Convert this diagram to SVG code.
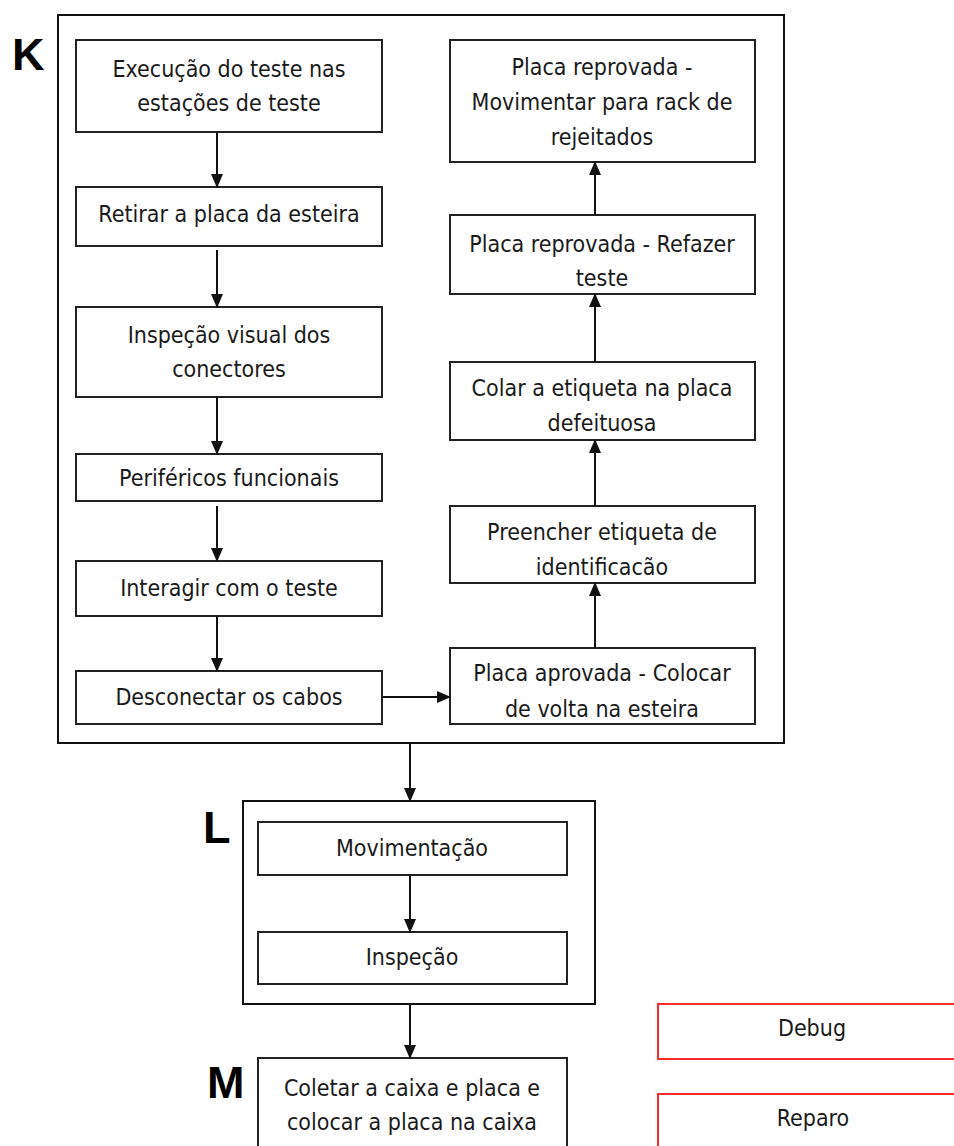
<svg xmlns="http://www.w3.org/2000/svg" width="954" height="1146" viewBox="0 0 954 1146">
  <style>
    .frame { fill: none; stroke: #111; stroke-width: 2; }
    .box { fill: #fff; stroke: #222; stroke-width: 2; }
    .red { fill: #fff; stroke: #ff2a2a; stroke-width: 2; }
    .t { font-family: "DejaVu Sans Condensed", "DejaVu Sans", sans-serif; font-size: 23px; fill: #1a1a1a; text-anchor: middle; }
    .big { font-family: "Liberation Sans", Arial, sans-serif; font-weight: bold; font-size: 45px; fill: #000; }
    .edge { fill: none; stroke: #111; stroke-width: 2; }
  </style>
  <defs>
    <marker id="arrow" markerWidth="14" markerHeight="12" refX="13" refY="6" orient="auto" markerUnits="userSpaceOnUse">
      <path d="M0,0 L14,6 L0,12 Z" fill="#111"/>
    </marker>
  </defs>
  <rect width="954" height="1146" fill="#fff"/>

  <!-- section frames and letters -->
  <g id="section-K">
    <rect class="frame" x="58" y="15" width="726" height="728"/>
    <text class="big" x="12" y="70">K</text>
  </g>
  <g id="section-L">
    <rect class="frame" x="243" y="801" width="352" height="203"/>
    <text class="big" x="203" y="843">L</text>
  </g>
  <g id="section-M">
    <text class="big" x="207" y="1098">M</text>
  </g>

  <!-- left column -->
  <g id="execucao">
    <rect class="box" x="76" y="40" width="306" height="92"/>
    <text class="t" x="229" y="77">Execução do teste nas</text>
    <text class="t" x="229" y="111">estações de teste</text>
  </g>
  <g id="retirar">
    <rect class="box" x="76" y="187" width="306" height="59"/>
    <text class="t" x="229" y="222">Retirar a placa da esteira</text>
  </g>
  <g id="inspecao-visual">
    <rect class="box" x="76" y="307" width="306" height="90"/>
    <text class="t" x="229" y="343">Inspeção visual dos</text>
    <text class="t" x="229" y="377">conectores</text>
  </g>
  <g id="perifericos">
    <rect class="box" x="76" y="454" width="306" height="47"/>
    <text class="t" x="229" y="486">Periféricos funcionais</text>
  </g>
  <g id="interagir">
    <rect class="box" x="76" y="561" width="306" height="55"/>
    <text class="t" x="229" y="596">Interagir com o teste</text>
  </g>
  <g id="desconectar">
    <rect class="box" x="76" y="671" width="306" height="53"/>
    <text class="t" x="229" y="705">Desconectar os cabos</text>
  </g>

  <!-- right column -->
  <g id="reprovada-rack">
    <rect class="box" x="450" y="40" width="305" height="122"/>
    <text class="t" x="602" y="75">Placa reprovada -</text>
    <text class="t" x="602" y="110">Movimentar para rack de</text>
    <text class="t" x="602" y="145">rejeitados</text>
  </g>
  <g id="reprovada-refazer">
    <rect class="box" x="450" y="215" width="305" height="79"/>
    <text class="t" x="602" y="252">Placa reprovada - Refazer</text>
    <text class="t" x="602" y="286">teste</text>
  </g>
  <g id="colar-etiqueta">
    <rect class="box" x="450" y="362" width="305" height="78"/>
    <text class="t" x="602" y="396">Colar a etiqueta na placa</text>
    <text class="t" x="602" y="431">defeituosa</text>
  </g>
  <g id="preencher-etiqueta">
    <rect class="box" x="450" y="506" width="305" height="77"/>
    <text class="t" x="602" y="540">Preencher etiqueta de</text>
    <text class="t" x="602" y="575">identificacão</text>
  </g>
  <g id="aprovada">
    <rect class="box" x="450" y="648" width="305" height="76"/>
    <text class="t" x="602" y="681">Placa aprovada - Colocar</text>
    <text class="t" x="602" y="717">de volta na esteira</text>
  </g>

  <!-- section L contents -->
  <g id="movimentacao">
    <rect class="box" x="258" y="822" width="309" height="53"/>
    <text class="t" x="412" y="856">Movimentação</text>
  </g>
  <g id="inspecao">
    <rect class="box" x="258" y="932" width="309" height="52"/>
    <text class="t" x="412" y="965">Inspeção</text>
  </g>

  <!-- section M contents -->
  <g id="coletar">
    <rect class="box" x="258" y="1058" width="309" height="100"/>
    <text class="t" x="412" y="1096">Coletar a caixa e placa e</text>
    <text class="t" x="412" y="1130">colocar a placa na caixa</text>
  </g>

  <!-- side boxes -->
  <g id="debug">
    <rect class="red" x="658" y="1004" width="310" height="55"/>
    <text class="t" x="812" y="1036">Debug</text>
  </g>
  <g id="reparo">
    <rect class="red" x="658" y="1094" width="310" height="70"/>
    <text class="t" x="813" y="1126">Reparo</text>
  </g>

  <!-- connectors -->
  <g id="connectors">
    <line class="edge" x1="217" y1="132" x2="217" y2="187" marker-end="url(#arrow)"/>
    <line class="edge" x1="217" y1="250" x2="217" y2="307" marker-end="url(#arrow)"/>
    <line class="edge" x1="217" y1="397" x2="217" y2="454" marker-end="url(#arrow)"/>
    <line class="edge" x1="217" y1="506" x2="217" y2="561" marker-end="url(#arrow)"/>
    <line class="edge" x1="217" y1="616" x2="217" y2="671" marker-end="url(#arrow)"/>
    <line class="edge" x1="382" y1="697" x2="450" y2="697" marker-end="url(#arrow)"/>
    <line class="edge" x1="595" y1="648" x2="595" y2="583" marker-end="url(#arrow)"/>
    <line class="edge" x1="595" y1="506" x2="595" y2="440" marker-end="url(#arrow)"/>
    <line class="edge" x1="595" y1="362" x2="595" y2="294" marker-end="url(#arrow)"/>
    <line class="edge" x1="595" y1="215" x2="595" y2="162" marker-end="url(#arrow)"/>
    <line class="edge" x1="410" y1="743" x2="410" y2="801" marker-end="url(#arrow)"/>
    <line class="edge" x1="410" y1="875" x2="410" y2="932" marker-end="url(#arrow)"/>
    <line class="edge" x1="410" y1="1004" x2="410" y2="1058" marker-end="url(#arrow)"/>
  </g>
</svg>
